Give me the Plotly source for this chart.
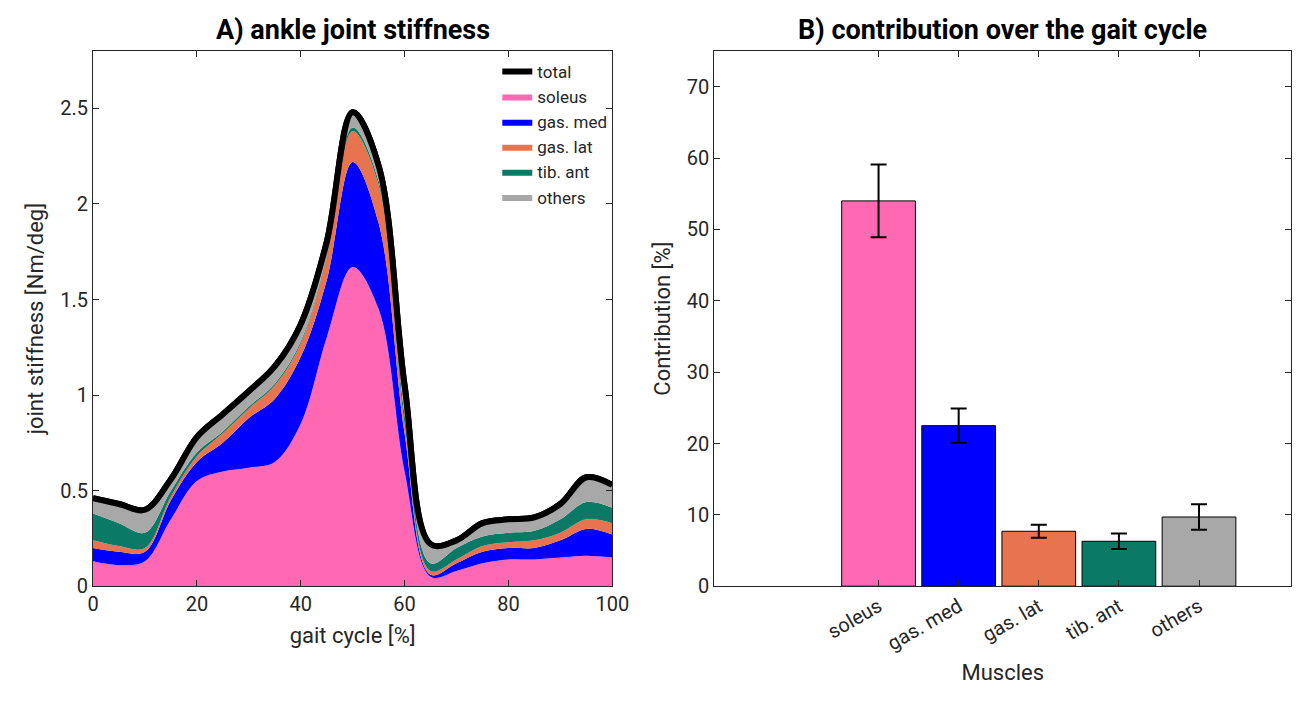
import plotly.graph_objects as go

# gait cycle samples and cumulative (stacked) upper edges of each layer
gait = [0, 5, 10, 15, 20, 25, 30, 35, 40, 45, 50, 55, 60, 65, 70, 75, 80, 85, 90, 95, 100]
soleus_top = [0.13, 0.11, 0.13, 0.35, 0.55, 0.60, 0.62, 0.65, 0.85, 1.30, 1.67, 1.45, 0.60, 0.05, 0.08, 0.12, 0.14, 0.14, 0.15, 0.16, 0.15]
gasmed_top = [0.20, 0.18, 0.18, 0.45, 0.65, 0.75, 0.88, 0.98, 1.20, 1.60, 2.22, 1.90, 0.80, 0.06, 0.12, 0.18, 0.20, 0.20, 0.24, 0.30, 0.27]
gaslat_top = [0.24, 0.21, 0.20, 0.47, 0.68, 0.80, 0.93, 1.05, 1.27, 1.72, 2.38, 2.10, 0.85, 0.08, 0.14, 0.21, 0.23, 0.24, 0.28, 0.35, 0.33]
tibant_top = [0.38, 0.33, 0.28, 0.50, 0.70, 0.81, 0.94, 1.06, 1.28, 1.73, 2.40, 2.12, 0.90, 0.12, 0.20, 0.26, 0.28, 0.29, 0.35, 0.44, 0.41]
total = [0.46, 0.43, 0.40, 0.56, 0.78, 0.90, 1.02, 1.15, 1.37, 1.80, 2.48, 2.20, 1.05, 0.22, 0.24, 0.33, 0.35, 0.36, 0.43, 0.57, 0.53]

muscles = ["soleus", "gas. med", "gas. lat", "tib. ant", "others"]
contrib = [54.0, 22.5, 7.7, 6.3, 9.7]
contrib_err = [5.1, 2.4, 0.9, 1.1, 1.8]
colors = ["#ff69b4", "#0000ff", "#e8734f", "#0a7a66", "#a8a8a8"]

font = "Roboto, Arial, sans-serif"
fig = go.Figure()

# left: stacked stiffness
fig.add_trace(go.Scatter(x=gait, y=total, mode="lines", name="total",
                         line=dict(color="black", width=6, shape="spline"), xaxis="x", yaxis="y"))
layers = [soleus_top, gasmed_top, gaslat_top, tibant_top, total]
prev = None
for name, col, top in zip(muscles, colors, layers):
    fig.add_trace(go.Scatter(x=gait, y=top, mode="lines", name=name,
                             line=dict(color=col, width=0, shape="spline"),
                             fill="tozeroy" if prev is None else "tonexty",
                             fillcolor=col, xaxis="x", yaxis="y"))
    prev = top
# redraw total on top
fig.add_trace(go.Scatter(x=gait, y=total, mode="lines", showlegend=False,
                         line=dict(color="black", width=6, shape="spline"), xaxis="x", yaxis="y"))

# right: bars
fig.add_trace(go.Bar(x=list(range(1, 6)), y=contrib, marker=dict(color=colors, line=dict(color="black", width=1)),
                     width=0.92, showlegend=False,
                     error_y=dict(type="data", array=contrib_err, color="black", thickness=2, width=8),
                     xaxis="x2", yaxis="y2"))

ax = dict(showline=True, mirror="ticks", linecolor="#262626", linewidth=1, ticks="inside",
          tickcolor="#262626", ticklen=6, showgrid=False, zeroline=False, automargin=False,
          tickfont=dict(size=20, color="#262626"))
fig.update_layout(
    width=1308, height=706, margin=dict(l=0, r=0, t=0, b=0),
    paper_bgcolor="white", plot_bgcolor="white", font=dict(family=font, color="#262626"),
    xaxis=dict(ax, domain=[0.065, 0.462], range=[0, 100], tickvals=[0, 20, 40, 60, 80, 100],
               title=dict(text="gait cycle [%]", font=dict(size=22), standoff=12)),
    yaxis=dict(ax, domain=[0.181, 0.939], range=[0, 2.8], tickvals=[0, 0.5, 1, 1.5, 2, 2.5],
               ticktext=["0", "0.5", "1", "1.5", "2", "2.5"],
               title=dict(text="joint stiffness [Nm/deg]", font=dict(size=22), standoff=10)),
    xaxis2=dict(ax, domain=[0.54, 0.981], range=[-1.05, 6.15], tickvals=list(range(1, 6)),
                ticktext=muscles, tickangle=-30, anchor="y2",
                title=dict(text="Muscles", font=dict(size=22), standoff=10)),
    yaxis2=dict(ax, domain=[0.181, 0.939], range=[0, 75], tickvals=list(range(0, 71, 10)), anchor="x2",
                title=dict(text="Contribution [%]", font=dict(size=22), standoff=10)),
    legend=dict(x=0.462, xanchor="right", y=0.935, yanchor="top", bgcolor="rgba(0,0,0,0)",
                font=dict(size=17), tracegroupgap=0, traceorder="normal"),
    annotations=[
        dict(text="<b>A) ankle joint stiffness</b>", x=0.2635, y=0.943, xref="paper", yref="paper",
             xanchor="center", yanchor="bottom", showarrow=False, font=dict(size=27, color="black")),
        dict(text="<b>B) contribution over the gait cycle</b>", x=0.7605, y=0.943, xref="paper", yref="paper",
             xanchor="center", yanchor="bottom", showarrow=False, font=dict(size=27, color="black")),
    ],
)
fig.write_html("out.html")
